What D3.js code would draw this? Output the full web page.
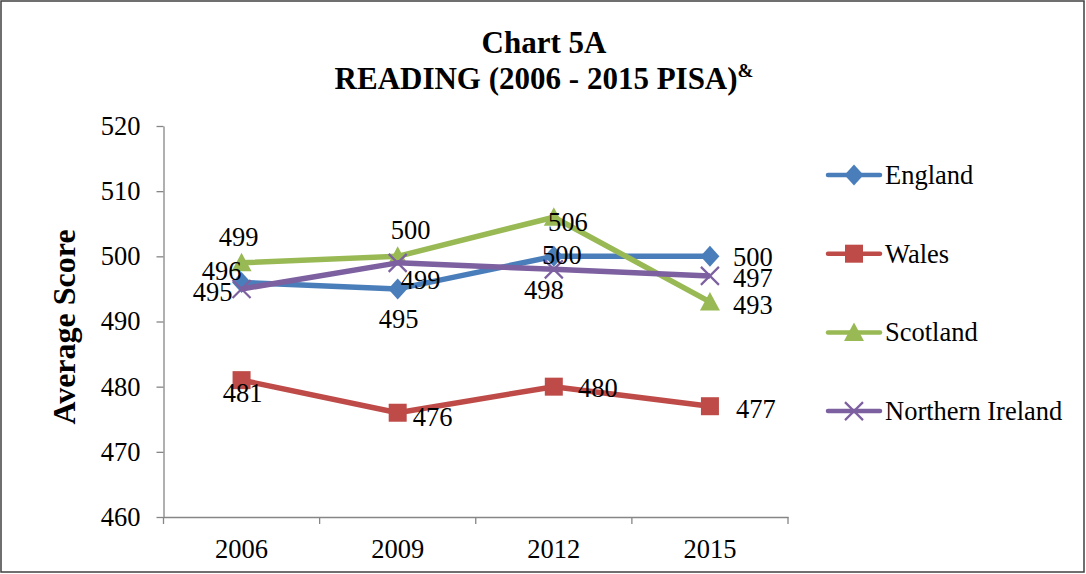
<!DOCTYPE html>
<html>
<head>
<meta charset="utf-8">
<script src="https://cdn.jsdelivr.net/npm/d3@7"></script>
<style>
  body { margin: 0; background: #fff; }
  svg text { font-family: "Liberation Serif", "Times New Roman", Tinos, "DejaVu Serif", serif; fill: #000; }
</style>
</head>
<body>
<svg id="chart"></svg>
<script>
// Chart data
var years = ["2006", "2009", "2012", "2015"];
var seriesNames = ["England", "Wales", "Scotland", "Northern Ireland"];
var england = [496, 495, 500, 500];
var wales = [481, 476, 480, 477];
var scotland = [499, 500, 506, 493];
var northernIreland = [495, 499, 498, 497];
var yTicks = [460, 470, 480, 490, 500, 510, 520];

var allValues = [england, wales, scotland, northernIreland];
var colors = ["#4A7EBB", "#BE4B48", "#98B954", "#7D60A0"];
var markers = ["diamond", "square", "triangle", "cross"];
var serif = '"Liberation Serif", "Times New Roman", Tinos, "DejaVu Serif", serif';

// label offsets (dx, dy) relative to each point, per series
var labelOffsets = [
    [[-20, -11], [1, 30], [8, -1], [43, 1]],
    [[1, 13], [35, 4], [44, 1], [46, 3]],
    [[-3, -26], [13, -26], [14, 5], [43, 3]],
    [[-29, 3], [23, 17], [-10, 21], [43, 2]]
];

var W = 1086, H = 574;
var margin = {top: 126, right: 298, bottom: 57, left: 163.5};

var svg = d3.select("#chart").attr("width", W).attr("height", H);

svg.append("rect")
    .attr("x", 1).attr("y", 1)
    .attr("width", W - 3).attr("height", H - 3)
    .attr("fill", "#fff")
    .attr("stroke", "#404040")
    .attr("stroke-width", 1.5);

var x = d3.scaleBand()
    .domain(years)
    .range([margin.left, W - margin.right]);
var y = d3.scaleLinear()
    .domain([460, 520])
    .range([H - margin.bottom, margin.top]);

// Title
var title = svg.append("text")
    .attr("x", 544).attr("y", 53)
    .attr("text-anchor", "middle")
    .style("font-family", serif)
    .style("font-size", "31px").style("font-weight", "bold");
title.append("tspan").attr("x", 544).text("Chart 5A");
title.append("tspan").attr("x", 544).attr("dy", 36).text("READING (2006 - 2015 PISA)");
title.append("tspan").attr("dy", -12).style("font-size", "19px").text("&");

// Axes
var axisColor = "#868686";
var yAxis = svg.append("g")
    .attr("transform", "translate(" + margin.left + ",0)")
    .call(d3.axisLeft(y).tickValues(yTicks).tickSize(7).tickSizeOuter(0).tickPadding(16));
var xAxis = svg.append("g")
    .attr("transform", "translate(0," + (H - margin.bottom) + ")")
    .call(d3.axisBottom(x).tickSize(0).tickSizeOuter(0));

xAxis.selectAll(".tick text").attr("y", 32).attr("dy", "0.33em");

[yAxis, xAxis].forEach(function (g) {
    g.attr("font-family", null).attr("font-size", null);
    g.select(".domain").attr("stroke", axisColor).attr("stroke-width", 1.3);
    g.selectAll("line").attr("stroke", axisColor).attr("stroke-width", 1.3);
    g.selectAll("text")
        .style("font-family", serif)
        .style("font-size", "26.5px")
        .attr("fill", "#000");
});

// x ticks at category boundaries
var boundaries = years.map(function (d) { return x(d); }).concat([x.range()[1]]);
xAxis.selectAll(".bound")
    .data(boundaries)
    .enter().append("line")
    .attr("x1", function (d) { return d; })
    .attr("x2", function (d) { return d; })
    .attr("y1", 0).attr("y2", 7)
    .attr("stroke", axisColor).attr("stroke-width", 1.3);

// Y axis title
svg.append("text")
    .attr("transform", "translate(75,327) rotate(-90)")
    .attr("text-anchor", "middle")
    .style("font-family", serif)
    .style("font-size", "32px").style("font-weight", "bold")
    .text("Average Score");

function drawMarker(g, type, color) {
    if (type === "diamond") {
        g.append("path").attr("d", "M0,-10.5L9.5,0L0,10.5L-9.5,0Z").attr("fill", color);
    } else if (type === "square") {
        g.append("rect").attr("x", -9).attr("y", -9).attr("width", 18).attr("height", 18).attr("fill", color);
    } else if (type === "triangle") {
        g.append("path").attr("d", "M0,-10L10,8.5L-10,8.5Z").attr("fill", color);
    } else {
        g.append("path").attr("d", "M-9,-9L9,9M-9,9L9,-9")
            .attr("stroke", color).attr("stroke-width", 2.2).attr("fill", "none");
    }
}

var cx = function (i) { return x(years[i]) + x.bandwidth() / 2; };
var line = d3.line()
    .x(function (d, i) { return cx(i); })
    .y(function (d) { return y(d); });

allValues.forEach(function (vals, s) {
    var g = svg.append("g");
    g.append("path")
        .datum(vals)
        .attr("d", line)
        .attr("fill", "none")
        .attr("stroke", colors[s])
        .attr("stroke-width", 5.5)
        .attr("stroke-linejoin", "round");
    vals.forEach(function (v, i) {
        var m = g.append("g").attr("transform", "translate(" + cx(i) + "," + y(v) + ")");
        drawMarker(m, markers[s], colors[s]);
    });
});

// Data labels
allValues.forEach(function (vals, s) {
    svg.append("g").selectAll("text")
        .data(vals)
        .enter().append("text")
        .attr("x", function (d, i) { return cx(i) + labelOffsets[s][i][0]; })
        .attr("y", function (d, i) { return y(d) + labelOffsets[s][i][1]; })
        .attr("text-anchor", "middle")
        .attr("dominant-baseline", "central")
        .style("font-family", serif)
        .style("font-size", "26.5px")
        .text(function (d) { return d; });
});

// Legend
var legendTop = 175, legendStep = 78.7;
seriesNames.forEach(function (name, s) {
    var ly = legendTop + s * legendStep;
    var g = svg.append("g");
    g.append("line")
        .attr("x1", 828).attr("x2", 880)
        .attr("y1", ly).attr("y2", ly)
        .attr("stroke", colors[s]).attr("stroke-width", 4.5)
        .attr("stroke-linecap", "round");
    var m = g.append("g").attr("transform", "translate(854," + ly + ")");
    drawMarker(m, markers[s], colors[s]);
    g.append("text")
        .attr("x", 885).attr("y", ly)
        .attr("dominant-baseline", "central")
        .style("font-family", serif)
        .style("font-size", "26.5px")
        .text(name);
});
</script>
</body>
</html>
